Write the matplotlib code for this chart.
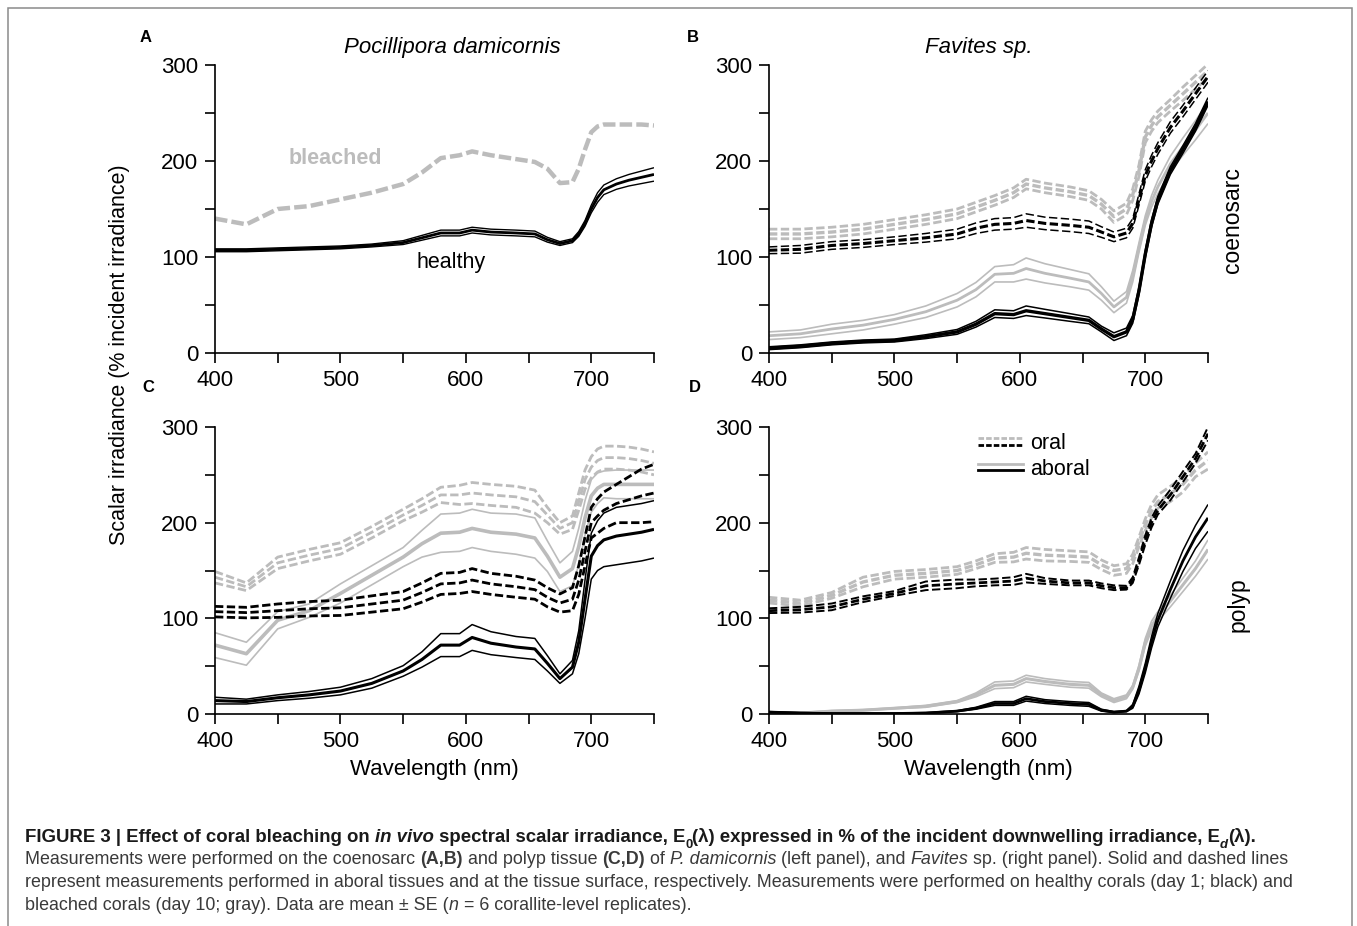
import matplotlib
matplotlib.use("Agg")
import matplotlib.pyplot as plt
import numpy as np
from matplotlib.legend_handler import HandlerBase
from matplotlib.lines import Line2D
from matplotlib.patches import Rectangle

plt.rcParams["font.family"] = ["Liberation Sans", "DejaVu Sans"]
plt.rcParams["lines.scale_dashes"] = False

# 데이터 (% incident irradiance, mean and SE)
wavelength = [400, 425, 450, 475, 500, 525, 550, 565, 580, 595, 605, 620, 640,
              655, 665, 675, 685, 690, 695, 700, 705, 710, 720, 730, 740, 750]

# A: Pocillipora coenosarc
a_healthy = [107, 107, 108, 109, 110, 112, 115, 120, 125, 125, 128, 126, 125,
             124, 118, 114, 117, 124, 135, 150, 162, 170, 176, 180, 183, 186]
a_healthy_se = [1.5, 1.5, 1.5, 1.5, 1.5, 1.5, 2, 2.5, 3, 3, 3, 3, 3,
                3, 2.5, 2, 2, 2.5, 3, 4, 5, 5, 5.5, 6, 6.5, 7]
a_bleached = [140, 134, 150, 153, 160, 167, 176, 188, 203, 206, 210, 206, 202,
              199, 192, 177, 178, 192, 212, 230, 236, 238, 238, 238, 238, 237]

# B: Favites coenosarc
b_bleached_oral = [124, 124, 126, 129, 134, 139, 145, 152, 159, 167, 176, 172, 168,
                   164, 155, 142, 150, 165, 190, 225, 237, 246, 258, 270, 282, 294]
b_bleached_oral_se = [5, 5, 5, 5, 5, 5, 5, 5, 5, 5, 5, 5, 5,
                      5, 5, 6, 6, 6, 6, 6, 6, 6, 6, 7, 7, 7]
b_healthy_oral = [107, 108, 112, 114, 117, 120, 124, 130, 134, 135, 138, 135, 133,
                  131, 126, 121, 125, 135, 160, 185, 200, 213, 235, 252, 270, 288]
b_healthy_oral_se = [3.5, 4, 4, 4, 4, 4.5, 5, 5.5, 6, 6, 7, 6.5, 6.5,
                     6.5, 5.5, 5, 5, 5, 6, 6, 6, 6, 6, 6, 6, 6]
b_bleached_aboral = [18, 20, 25, 29, 35, 43, 55, 66, 82, 83, 88, 83, 78,
                     74, 62, 48, 58, 80, 110, 138, 158, 173, 197, 215, 232, 250]
b_bleached_aboral_se = [4, 4, 5, 5, 5, 6, 7, 7.5, 8, 9, 11, 10, 9,
                        8.5, 7, 6, 6, 6, 5, 5, 6, 7, 8, 9, 10, 11]
b_healthy_aboral = [5, 7, 10, 12, 13, 17, 22, 30, 41, 40, 44, 41, 37,
                    34, 25, 17, 22, 35, 65, 103, 135, 159, 190, 212, 235, 262]
b_healthy_aboral_se = [1.5, 1.5, 1.5, 1.5, 1.5, 2, 2.5, 3, 4, 4, 5, 4.5, 4,
                       3.5, 3, 4, 4, 4, 4, 4, 4, 4, 4, 4, 4, 4]

# C: Pocillipora polyp
c_bleached_oral = [143, 133, 158, 166, 173, 190, 208, 218, 229, 229, 231, 229, 227,
                   222, 208, 194, 200, 222, 245, 258, 265, 268, 268, 267, 265, 262]
c_bleached_oral_se = [6, 4, 6, 6, 6, 6, 6, 7, 8, 10, 11, 11, 11,
                      12, 8, 6, 7, 9, 10, 11, 12, 12, 12, 12, 12, 12]
c_bleached_aboral = [72, 63, 98, 108, 126, 145, 164, 178, 189, 190, 194, 190, 188,
                     184, 165, 143, 152, 175, 205, 228, 236, 240, 240, 240, 240, 240]
c_bleached_aboral_se = [13, 12, 9, 7, 10, 10, 10, 14, 20, 20, 20, 20, 21,
                        21, 16, 15, 18, 19, 18, 17, 16, 14, 15, 15, 15, 15]
c_healthy_oral = [107, 106, 108, 110, 111, 115, 119, 127, 136, 137, 140, 136, 133,
                  130, 122, 116, 120, 140, 170, 200, 207, 213, 220, 224, 228, 231]
c_healthy_oral_se = [5.5, 5.5, 7, 7.5, 8, 8.5, 9, 10, 11, 11, 12, 11, 11,
                     10, 10, 9.5, 12, 15, 15, 16, 18, 19, 20, 24, 28, 30]
c_healthy_aboral = [14, 13, 17, 20, 24, 32, 45, 57, 72, 72, 80, 74, 70,
                    68, 53, 37, 49, 75, 120, 165, 176, 182, 186, 188, 190, 193]
c_healthy_aboral_se = [3.5, 2.5, 3, 3.5, 4, 5, 5.5, 8, 12, 12, 13.5, 12, 11,
                       11, 8, 5, 7, 12, 20, 24, 26, 28, 30, 30, 30, 30]

# D: Favites polyp
d_bleached_oral = [119, 116, 124, 138, 145, 147, 150, 156, 163, 164, 168, 166, 165,
                   164, 156, 150, 152, 162, 180, 198, 212, 222, 230, 240, 255, 265]
d_bleached_oral_se = [3, 3, 3, 5, 4, 4, 4, 4, 4.5, 5, 6, 6, 5.5,
                      5.5, 5, 5, 5, 5, 5, 6, 7, 7, 8, 8, 7, 9]
d_healthy_oral = [108, 109, 112, 120, 126, 134, 136, 137, 138, 139, 142, 139, 137,
                  137, 134, 132, 132, 140, 160, 182, 200, 213, 229, 248, 267, 293]
d_healthy_oral_se = [2.5, 3, 3.5, 3, 2.5, 4.5, 4.5, 3.5, 3.5, 4, 4.5, 3, 2.5,
                     2.5, 2.5, 2.5, 2, 3, 4, 5, 5, 4.5, 5.5, 5.5, 5, 7]
d_bleached_aboral = [1, 1, 3, 4, 6, 8, 13, 20, 30, 31, 37, 34, 31,
                     30, 20, 14, 18, 28, 48, 75, 92, 102, 118, 135, 152, 172]
d_bleached_aboral_se = [0.5, 0.5, 0.5, 0.5, 0.5, 1, 1, 2, 3.5, 3.5, 3.5, 3, 3,
                        3, 2, 2, 2, 2, 3, 4, 5, 5, 6, 7, 8, 10]
d_healthy_aboral = [2, 1, 0.5, 0.5, 0.5, 1, 3, 6, 11, 11, 16, 13, 11,
                    10, 4, 2, 3, 8, 25, 48, 75, 98, 130, 160, 185, 205]
d_healthy_aboral_se = [0.5, 0.5, 0.5, 0.5, 0.5, 0.5, 0.5, 1, 2, 2, 2.5, 2, 2,
                       2, 1, 0.5, 0.5, 2, 4, 5, 6, 7, 9, 11, 12, 14]

GRAY = "#bcbcbc"
BLACK = "#000000"
DASH = (6, 2.5)

W, H = 1357, 926
fig = plt.figure(figsize=(W / 100, H / 100), dpi=100)


def px_axes(left, top, right, bottom):
    return fig.add_axes([left / W, 1 - bottom / H, (right - left) / W, (bottom - top) / H])


def style_axes(ax):
    ax.set_xlim(400, 750)
    ax.set_ylim(0, 300)
    ax.set_xticks([400, 500, 600, 700])
    ax.set_xticks([450, 550, 650, 750], minor=True)
    ax.set_yticks([0, 100, 200, 300])
    ax.set_yticks([50, 150, 250], minor=True)
    for s in ["top", "right"]:
        ax.spines[s].set_visible(False)
    for s in ["left", "bottom"]:
        ax.spines[s].set_linewidth(1.2)
    ax.tick_params(which="both", direction="out", length=7, width=1.2,
                   labelsize=16, pad=5)


def draw_group(ax, mean, se, color, dashed, lw_mean=2.2, lw_se=1.1):
    mean = np.array(mean, dtype=float)
    se = np.array(se, dtype=float)
    kw = dict(color=color, solid_capstyle="butt")
    if dashed:
        kw["dashes"] = DASH
    ax.plot(wavelength, mean + se, lw=lw_se, **kw)
    ax.plot(wavelength, mean - se, lw=lw_se, **kw)
    ax.plot(wavelength, mean, lw=lw_mean, **kw)


ax_a = px_axes(215, 65, 654, 353)
ax_b = px_axes(769, 65, 1208, 353)
ax_c = px_axes(215, 427, 654, 714)
ax_d = px_axes(769, 427, 1208, 714)
for ax in (ax_a, ax_b, ax_c, ax_d):
    style_axes(ax)

# A
ax_a.plot(wavelength, a_bleached, color=GRAY, lw=3.2, dashes=(9, 3))
draw_group(ax_a, a_healthy, a_healthy_se, BLACK, False, 2.0, 1.0)
ax_a.text(496, 203, "bleached", color=GRAY, fontsize=15.5, fontweight="bold",
          ha="center", va="center")
ax_a.text(588, 94, "healthy", color=BLACK, fontsize=15.5, ha="center", va="center")

# B
draw_group(ax_b, b_bleached_oral, b_bleached_oral_se, GRAY, True, 2.4, 2.0)
draw_group(ax_b, b_bleached_aboral, b_bleached_aboral_se, GRAY, False, 2.0, 1.2)
draw_group(ax_b, b_healthy_oral, b_healthy_oral_se, BLACK, True, 2.2, 1.1)
draw_group(ax_b, b_healthy_aboral, b_healthy_aboral_se, BLACK, False, 2.4, 1.1)

# C
draw_group(ax_c, c_bleached_oral, c_bleached_oral_se, GRAY, True, 2.0, 2.0)
draw_group(ax_c, c_bleached_aboral, c_bleached_aboral_se, GRAY, False, 2.6, 1.2)
draw_group(ax_c, c_healthy_oral, c_healthy_oral_se, BLACK, True, 2.0, 2.0)
draw_group(ax_c, c_healthy_aboral, c_healthy_aboral_se, BLACK, False, 2.2, 1.1)

# D
draw_group(ax_d, d_bleached_oral, d_bleached_oral_se, GRAY, True, 2.4, 2.0)
draw_group(ax_d, d_bleached_aboral, d_bleached_aboral_se, GRAY, False, 2.2, 1.2)
draw_group(ax_d, d_healthy_oral, d_healthy_oral_se, BLACK, True, 2.0, 1.4)
draw_group(ax_d, d_healthy_aboral, d_healthy_aboral_se, BLACK, False, 2.0, 1.1)


class PairHandler(HandlerBase):
    def create_artists(self, legend, orig_handle, xdescent, ydescent, width,
                       height, fontsize, trans):
        out = []
        for line, frac in zip(orig_handle, (0.72, 0.28)):
            y = frac * height - ydescent
            seg = Line2D([-xdescent, width - xdescent], [y, y])
            seg.update_from(line)
            seg.set_transform(trans)
            out.append(seg)
        return out


oral_h = (Line2D([], [], color=GRAY, lw=2, dashes=(4, 1.5)),
          Line2D([], [], color=BLACK, lw=2, dashes=(4, 1.5)))
aboral_h = (Line2D([], [], color=GRAY, lw=2), Line2D([], [], color=BLACK, lw=2))
ax_d.legend([oral_h, aboral_h], ["oral", "aboral"],
            handler_map={tuple: PairHandler()}, loc="upper left",
            bbox_to_anchor=(0.476, 0.978), frameon=False, fontsize=15.5,
            handlelength=2.1, handletextpad=0.3, labelspacing=0.2,
            borderpad=0, borderaxespad=0)

for ax in (ax_c, ax_d):
    ax.set_xlabel("Wavelength (nm)", fontsize=16, labelpad=5)

ax_a.text(0.54, 1.0625, "Pocillipora damicornis", transform=ax_a.transAxes,
          fontsize=16, fontstyle="italic", ha="center", va="center")
ax_b.text(0.478, 1.0625, "Favites sp.", transform=ax_b.transAxes,
          fontsize=16, fontstyle="italic", ha="center", va="center")

fig.text(120 / W, 1 - 355 / H, "Scalar irradiance (% incident irradiance)",
         rotation=90, fontsize=15.5, ha="center", va="center")
fig.text(1232 / W, 1 - 220 / H, "coenosarc", rotation=90, fontsize=16.5,
         ha="center", va="center")
fig.text(1238 / W, 1 - 605 / H, "polyp", rotation=90, fontsize=16.5,
         ha="center", va="center")

for lab, x, y in [("A", 146, 37), ("B", 693, 37), ("C", 148, 388), ("D", 695, 388)]:
    fig.text(x / W, 1 - y / H, lab, fontsize=12, fontweight="bold",
             ha="center", va="center")

# frame
fig.add_artist(Rectangle((8 / W, -0.05), (1352 - 8) / W, 1.05 - 8 / H,
                         transform=fig.transFigure, fill=False,
                         edgecolor="#8a8a8a", lw=1.1))

# caption
renderer = fig.canvas.get_renderer()


def piece_props(kw, fs):
    size = fs * 0.7 if kw.get("sub") else fs
    return dict(fontsize=size, fontweight=kw.get("weight", "normal"),
                fontstyle=kw.get("style", "normal"))


def advance(txt, kw, fs):
    props = piece_props(kw, fs)
    t1 = fig.text(0, 0, txt + "|", **props)
    t2 = fig.text(0, 0, "|", **props)
    w = t1.get_window_extent(renderer).width - t2.get_window_extent(renderer).width
    t1.remove()
    t2.remove()
    return w


def line_width(pieces, fs):
    return sum(advance(t, k, fs) for t, k in pieces)


def draw_line(pieces, x_px, base_px, fs, color):
    x = x_px
    for txt, kw in pieces:
        dy = fs * 0.3 * 100 / 72 if kw.get("sub") else 0
        fig.text(x / W, 1 - (base_px + dy) / H, txt, color=color, va="baseline",
                 ha="left", **piece_props(kw, fs))
        x += advance(txt, kw, fs)


B_ = {"weight": "bold"}
BI = {"weight": "bold", "style": "italic"}
R_ = {}
I_ = {"style": "italic"}

line1 = [("FIGURE 3 | Effect of coral bleaching on ", B_), ("in vivo", BI),
         (" spectral scalar irradiance, E", B_), ("0", {"weight": "bold", "sub": True}),
         ("(λ) expressed in % of the incident downwelling irradiance, E", B_),
         ("d", {"weight": "bold", "style": "italic", "sub": True}), ("(λ).", B_)]
line2 = [("Measurements were performed on the coenosarc ", R_), ("(A,B)", B_),
         (" and polyp tissue ", R_), ("(C,D)", B_), (" of ", R_),
         ("P. damicornis", I_), (" (left panel), and ", R_), ("Favites", I_),
         (" sp. (right panel). Solid and dashed lines", R_)]
line3 = [("represent measurements performed in aboral tissues and at the tissue "
          "surface, respectively. Measurements were performed on healthy corals "
          "(day 1; black) and", R_)]
line4 = [("bleached corals (day 10; gray). Data are mean ± SE (", R_), ("n", I_),
         (" = 6 corallite-level replicates).", R_)]

fs1 = 10 * (1267 - 25) / line_width(line1, 10)
fs2 = 10 * (1294 - 25) / line_width(line2, 10)
draw_line(line1, 25, 842, fs1, "#1a1a1a")
draw_line(line2, 25, 864, fs2, "#3a3a3a")
draw_line(line3, 25, 887, fs2, "#3a3a3a")
draw_line(line4, 25, 910, fs2, "#3a3a3a")

fig.savefig("out.png", dpi=100)
